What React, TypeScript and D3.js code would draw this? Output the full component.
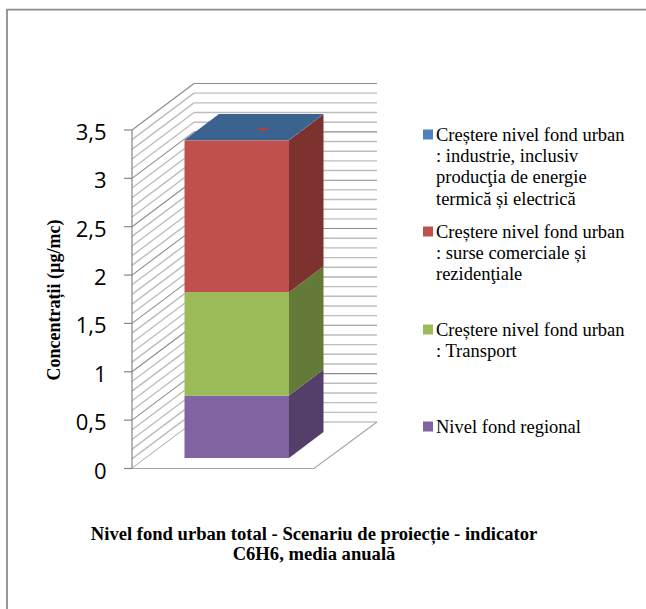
import React from "react";
import * as d3 from "d3";

const seriesNames = ["Nivel fond regional", "Transport", "Comerciale", "Industrie"];
const seriesValues = [0.645, 1.07, 1.57, 0.002];
const seriesFront = ["#8064a2", "#9bbb59", "#c0504d", "#4f81bd"];
const seriesSide = ["#533f69", "#647a38", "#7d3230", "#335480"];
const seriesTop = ["#8064a2", "#9bbb59", "#c0504d", "#3c6290"];
const tickValues = [0, 0.5, 1, 1.5, 2, 2.5, 3, 3.5];
const minorValues = d3.range(0, 36).map((d) => d / 10);
const legendBlocks = [
  { color: "#4f81bd", lines: ["Creștere nivel fond urban", ": industrie, inclusiv", "producţia de energie", "termică și electrică"], base: 141 },
  { color: "#c0504d", lines: ["Creștere nivel fond urban", ": surse comerciale și", "rezidenţiale"], base: 238 },
  { color: "#9bbb59", lines: ["Creștere nivel fond urban", ": Transport"], base: 336 },
  { color: "#8064a2", lines: ["Nivel fond regional"], base: 433 },
];
const titleLines = ["Nivel fond urban total - Scenariu de proiecție - indicator", "C6H6, media anuală"];
const yTitle = "Concentrații (µg/mc)";

const serif = "'Liberation Serif', serif";
const y = d3.scaleLinear().domain([0, 3.5]).range([468.5, 130]);
const depthX = 62;
const depthY = 46.5;
const floorRight = 314;
const x0 = 132;
const barX0 = 184.5;
const barX1 = 289;
const barBase = 458;
const barDX = 34.5;
const barDY = 26;
const unit = y(0) - y(1);
const line = d3.line();

export default function App() {
  let acc = 0;
  const segs = seriesValues.map((v, i) => {
    const bottom = barBase - acc * unit;
    acc += v;
    const top = barBase - acc * unit;
    return { i, bottom, top };
  });
  const last = segs[segs.length - 1];
  return (
    <svg width={646} height={609} style={{ position: "absolute", left: 0, top: 0, background: "#fff" }}>
      <path d="M7,609V9.7H646" fill="none" stroke="#8c8c8c" strokeWidth={1.8} />
      {minorValues.map((v) => {
        const major = Math.abs(v * 2 - Math.round(v * 2)) < 1e-6;
        const py = y(v);
        const stroke = major ? "#8c8c8c" : "#bdbdbd";
        const w = major ? 1.1 : 1.4;
        return (
          <g key={v}>
            <path d={line([[x0, py], [x0 + depthX, py - depthY]]) as string} fill="none" stroke={stroke} strokeWidth={w} />
            {v > 0 && <path d={line([[x0 + depthX, py - depthY], [377, py - depthY]]) as string} fill="none" stroke={stroke} strokeWidth={w} />}
          </g>
        );
      })}
      <path d={line([[x0, y(0)], [floorRight, y(0)], [377, y(0) - depthY], [x0 + depthX, y(0) - depthY]]) as string + "Z"} fill="#fff" stroke="none" />
      <path d={line([[x0, y(0)], [floorRight, y(0)], [377, y(0) - depthY]]) as string} fill="none" stroke="#a6a6a6" strokeWidth={1.2} />
      <path d={line([[377, y(0) - depthY], [x0 + depthX, y(0) - depthY]]) as string} fill="none" stroke="#a6a6a6" strokeWidth={1} />
      <path d={line([[x0, y(0)], [x0, y(3.5)]]) as string} fill="none" stroke="#868686" strokeWidth={1.2} />
      {tickValues.map((t) => (
        <g key={t}>
          <line x1={124} x2={x0} y1={y(t)} y2={y(t)} stroke="#868686" strokeWidth={1.2} />
          <text x={106.5} y={y(t) + 10} textAnchor="end" fontFamily="'Open Sans', sans-serif" fontSize={22} fill="#000">
            {String(t).replace(".", ",")}
          </text>
        </g>
      ))}
      {segs.map((s) => (
        <g key={s.i}>
          <rect x={barX0} y={s.top} width={barX1 - barX0} height={s.bottom - s.top} fill={seriesFront[s.i]} />
          <path
            d={line([[barX1, s.bottom], [barX1 + barDX, s.bottom - barDY], [barX1 + barDX, s.top - barDY], [barX1, s.top]]) as string + "Z"}
            fill={seriesSide[s.i]}
          />
        </g>
      ))}
      <path
        d={line([[barX0, last.top], [barX1, last.top], [barX1 + barDX, last.top - barDY], [barX0 + barDX, last.top - barDY]]) as string + "Z"}
        fill={seriesTop[3]}
      />
      <path d="M256,128H270L263,131.5Z" fill="#a8443f" />
      <text transform="translate(60,300) rotate(-90)" textAnchor="middle" fontFamily={serif} fontWeight="bold" fontSize={18} fill="#000">
        {yTitle}
      </text>
      {legendBlocks.map((b) => (
        <g key={b.base}>
          <rect x={423} y={b.base - 11.5} width={10} height={10} fill={b.color} />
          {b.lines.map((l, i) => (
            <text key={i} x={436} y={b.base + i * 21.2} fontFamily={serif} fontSize={18.5} fill="#000">
              {l}
            </text>
          ))}
        </g>
      ))}
      {titleLines.map((l, i) => (
        <text key={i} x={314} y={540 + i * 20} textAnchor="middle" fontFamily={serif} fontWeight="bold" fontSize={18.6} fill="#000">
          {l}
        </text>
      ))}
    </svg>
  );
}
